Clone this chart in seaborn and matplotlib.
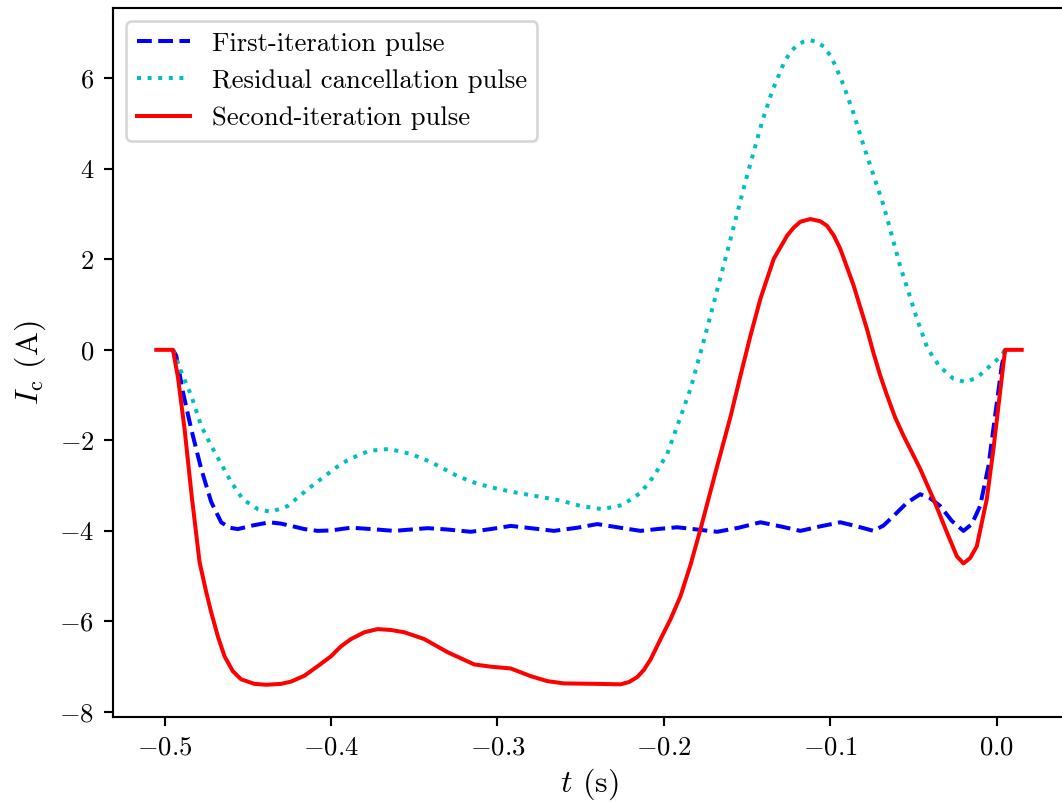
import numpy as np
import pandas as pd
import seaborn as sns
import matplotlib
matplotlib.use("Agg")
import matplotlib.pyplot as plt

plt.rcParams["font.family"] = "serif"
plt.rcParams["font.serif"] = ["cmr10", "DejaVu Serif"]
plt.rcParams["mathtext.fontset"] = "cm"
plt.rcParams["axes.formatter.use_mathtext"] = True
plt.rcParams["font.size"] = 10

# first-iteration pulse (blue dashed)
t_first = [-0.495, -0.493, -0.489, -0.484, -0.478, -0.472, -0.466, -0.461, -0.456,
           -0.447, -0.437, -0.430, -0.424, -0.416, -0.408, -0.400, -0.388, -0.376,
           -0.362, -0.352, -0.342, -0.330, -0.316, -0.304, -0.292, -0.280, -0.266,
           -0.252, -0.240, -0.228, -0.214, -0.204, -0.192, -0.180, -0.168, -0.155,
           -0.142, -0.130, -0.118, -0.106, -0.094, -0.084, -0.074, -0.068, -0.062,
           -0.054, -0.046, -0.040, -0.034, -0.027, -0.020, -0.015, -0.010, -0.005,
           -0.001, 0.003, 0.005]
i_first = [0.0, -0.13, -0.93, -1.75, -2.63, -3.36, -3.81, -3.93, -3.96,
           -3.88, -3.81, -3.84, -3.89, -3.96, -4.0, -3.99, -3.93, -3.96,
           -4.0, -3.97, -3.94, -3.97, -4.02, -3.96, -3.89, -3.94, -4.0,
           -3.93, -3.85, -3.92, -4.0, -3.96, -3.92, -3.97, -4.02, -3.93,
           -3.81, -3.9, -4.0, -3.9, -3.81, -3.9, -4.0, -3.88, -3.67,
           -3.38, -3.19, -3.28, -3.45, -3.78, -4.0, -3.85, -3.45, -2.57,
           -1.46, -0.35, 0.0]

# residual cancellation pulse (cyan dotted)
t_resid = [-0.495, -0.492, -0.488, -0.484, -0.478, -0.472, -0.466, -0.460, -0.453,
           -0.444, -0.436, -0.426, -0.414, -0.402, -0.394, -0.388, -0.377, -0.365,
           -0.352, -0.340, -0.324, -0.312, -0.300, -0.288, -0.274, -0.262, -0.250,
           -0.237, -0.225, -0.214, -0.206, -0.198, -0.190, -0.184, -0.177, -0.171,
           -0.166, -0.161, -0.156, -0.151, -0.146, -0.141, -0.135, -0.128, -0.124,
           -0.120, -0.116, -0.112, -0.108, -0.104, -0.100, -0.097, -0.092, -0.086,
           -0.080, -0.074, -0.068, -0.063, -0.058, -0.054, -0.048, -0.042, -0.038,
           -0.034, -0.026, -0.019, -0.012, -0.006, 0.002, 0.005]
i_resid = [0.0, -0.31, -0.66, -1.01, -1.68, -2.12, -2.52, -2.92, -3.30,
           -3.52, -3.58, -3.45, -3.08, -2.74, -2.52, -2.40, -2.23, -2.19,
           -2.30, -2.48, -2.79, -2.96, -3.07, -3.16, -3.25, -3.33, -3.45,
           -3.52, -3.43, -3.16, -2.79, -2.30, -1.48, -0.86, 0.07, 0.90,
           1.60, 2.30, 3.01, 3.72, 4.38, 5.04, 5.71, 6.33, 6.58,
           6.73, 6.81, 6.84, 6.80, 6.70, 6.50, 6.28, 5.84, 5.22,
           4.51, 3.85, 3.19, 2.52, 1.84, 1.39, 0.69, 0.07, -0.18,
           -0.38, -0.64, -0.71, -0.62, -0.42, -0.16, 0.0]

# second-iteration pulse (red solid)
t_second = [-0.505, -0.495, -0.492, -0.488, -0.4838, -0.479, -0.475, -0.472, -0.468,
            -0.464, -0.459, -0.454, -0.446, -0.439, -0.430, -0.424, -0.416, -0.408,
            -0.400, -0.394, -0.388, -0.380, -0.372, -0.364, -0.356, -0.344, -0.330,
            -0.314, -0.304, -0.292, -0.280, -0.270, -0.260, -0.240, -0.226, -0.221,
            -0.216, -0.212, -0.208, -0.202, -0.196, -0.190, -0.184, -0.178, -0.168,
            -0.160, -0.154, -0.148, -0.142, -0.134, -0.126, -0.122, -0.118, -0.112,
            -0.106, -0.102, -0.098, -0.094, -0.086, -0.078, -0.074, -0.070, -0.066,
            -0.061, -0.056, -0.046, -0.038, -0.030, -0.024, -0.020, -0.016, -0.012,
            -0.006, -0.002, 0.002, 0.005, 0.015]
i_second = [0.0, 0.0, -0.6, -1.75, -3.2, -4.69, -5.35, -5.8, -6.33,
            -6.77, -7.1, -7.28, -7.38, -7.40, -7.38, -7.33, -7.2, -6.99,
            -6.77, -6.55, -6.39, -6.24, -6.17, -6.19, -6.24, -6.39, -6.68,
            -6.95, -7.0, -7.04, -7.21, -7.32, -7.37, -7.38, -7.39, -7.34,
            -7.23, -7.07, -6.84, -6.39, -5.95, -5.44, -4.75, -3.96, -2.57,
            -1.48, -0.57, 0.31, 1.13, 2.01, 2.52, 2.70, 2.83, 2.89,
            2.84, 2.74, 2.53, 2.23, 1.42, 0.46, -0.08, -0.57, -1.0,
            -1.5, -1.90, -2.63, -3.30, -4.03, -4.56, -4.72, -4.6, -4.34,
            -3.30, -2.19, -0.93, 0.0, 0.0]

labels = ["First-iteration pulse", "Residual cancellation pulse", "Second-iteration pulse"]

fig = plt.figure(figsize=(1062 / 192, 802 / 192), dpi=192)
ax = fig.add_axes([113 / 1062, 85 / 802, 952 / 1062, 709 / 802])

sns.lineplot(x=t_first, y=i_first, ax=ax, color="b", linestyle="--", lw=1.5, label=labels[0])
sns.lineplot(x=t_resid, y=i_resid, ax=ax, color="c", linestyle=":", lw=1.5, label=labels[1])
sns.lineplot(x=t_second, y=i_second, ax=ax, color="r", linestyle="-", lw=1.5, label=labels[2])

ax.set_xlabel(r"$t$ (s)", fontsize=12, labelpad=2.5)
ax.set_ylabel(r"$I_\mathrm{c}$ (A)", fontsize=12)
ax.set_xticks([-0.5, -0.4, -0.3, -0.2, -0.1, 0.0])
ax.set_yticks([-8, -6, -4, -2, 0, 2, 4, 6])
ax.legend(loc="upper left")

fig.savefig("out.png", dpi=192)
